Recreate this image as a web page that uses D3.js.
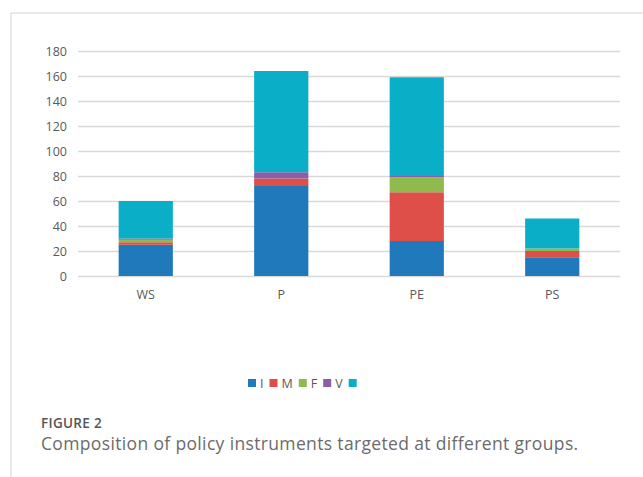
<!DOCTYPE html>
<html>
<head>
<meta charset="utf-8">
<script src="https://cdn.jsdelivr.net/npm/d3@7"></script>
<style>
  html, body { margin: 0; padding: 0; background: #fff; }
  svg { display: block; }
</style>
</head>
<body>
<script>
// Target groups and the stacked instrument counts for each
const groups = ["WS", "P", "PE", "PS"];
const seriesKeys = ["I", "M", "F", "V", "other"];
const seriesLabels = ["I", "M", "F", "V", ""];
const valuesI = [25, 72, 28, 15];
const valuesM = [2, 6, 39, 5];
const valuesF = [2, 0, 12, 2];
const valuesV = [1, 5, 1, 0];
const valuesOther = [30, 81, 79, 24];
const yTicks = [0, 20, 40, 60, 80, 100, 120, 140, 160, 180];
const colors = ["#1f79bb", "#de4f49", "#8fbb4e", "#8b5ea6", "#0aaec6"];

const W = 643, H = 477;
const svg = d3.select("body").append("svg").attr("width", W).attr("height", H);
const font = "'Open Sans', 'DejaVu Sans', sans-serif";

// Figure frame (top and left rules)
svg.append("line").attr("x1", 11).attr("x2", W).attr("y1", 13).attr("y2", 13)
  .attr("stroke", "#d4d4d4").attr("stroke-width", 1);
svg.append("line").attr("x1", 11).attr("x2", 11).attr("y1", 13).attr("y2", H)
  .attr("stroke", "#d4d4d4").attr("stroke-width", 1);

const plot = { left: 78, right: 620, top: 51, bottom: 276 };

const x = d3.scaleBand().domain(groups).range([plot.left, plot.right]).paddingInner(0.6).paddingOuter(0.3);
const y = d3.scaleLinear().domain([0, 180]).range([plot.bottom, plot.top]);

// Gridlines and y tick labels
const yAxis = d3.axisLeft(y).tickValues(yTicks).tickSize(-(plot.right - plot.left)).tickPadding(11);
const gy = svg.append("g").attr("transform", `translate(${plot.left},0)`).call(yAxis);
gy.select(".domain").remove();
gy.selectAll(".tick line").attr("stroke", "#d9d9d9").attr("stroke-width", 1.3);
gy.selectAll(".tick text").attr("fill", "#595959")
  .style("font-family", font).style("font-size", "12.5px");

// Stacked bars
const table = groups.map((g, i) => ({
  group: g, I: valuesI[i], M: valuesM[i], F: valuesF[i], V: valuesV[i], other: valuesOther[i]
}));
const stacked = d3.stack().keys(seriesKeys)(table);

svg.append("g").selectAll("g").data(stacked).join("g")
  .attr("fill", (d, i) => colors[i])
  .selectAll("rect").data(d => d).join("rect")
  .attr("x", d => x(d.data.group))
  .attr("width", x.bandwidth())
  .attr("y", d => y(d[1]))
  .attr("height", d => Math.max(0, y(d[0]) - y(d[1])));

// Category labels
const xAxis = d3.axisBottom(x).tickSize(0).tickPadding(14);
const gx = svg.append("g").attr("transform", `translate(0,${plot.bottom})`).call(xAxis);
gx.select(".domain").remove();
gx.selectAll(".tick text").attr("fill", "#595959")
  .style("font-family", font).style("font-size", "12.5px");

// Legend
const legend = svg.append("g").attr("transform", "translate(248,383)");
let lx = 0;
seriesKeys.forEach((k, i) => {
  legend.append("rect").attr("x", lx).attr("y", -4).attr("width", 8).attr("height", 8).attr("fill", colors[i]);
  lx += 12;
  if (seriesLabels[i]) {
    const t = legend.append("text").attr("x", lx).attr("y", 0).attr("dy", "0.36em")
      .attr("fill", "#595959")
      .style("font-family", font).style("font-size", "12.5px")
      .text(seriesLabels[i]);
    lx += t.node().getComputedTextLength() + 6;
  }
});

// Caption
svg.append("text").attr("x", 41).attr("y", 428).attr("fill", "#555")
  .style("font-family", font).style("font-size", "13.5px").style("font-weight", 600)
  .style("letter-spacing", "0.3px")
  .text("FIGURE 2");
svg.append("text").attr("x", 41).attr("y", 450).attr("fill", "#6b6b6b")
  .style("font-family", font).style("font-size", "17.5px")
  .style("letter-spacing", "0.35px")
  .text("Composition of policy instruments targeted at different groups.");
</script>
</body>
</html>
